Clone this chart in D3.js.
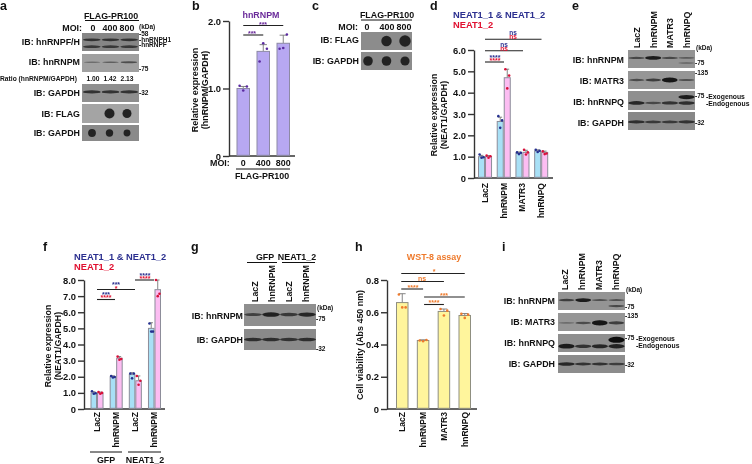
<!DOCTYPE html>
<html><head><meta charset="utf-8">
<script src="https://cdn.jsdelivr.net/npm/d3@7/dist/d3.min.js"></script>
<style>html,body{margin:0;padding:0;background:#fff}svg{display:block;filter:blur(0.3px)}text{font-family:"Liberation Sans",Arial,sans-serif;font-weight:700}</style>
</head><body><svg id="c" width="752" height="464"></svg>
<script>
// ---- Data ----
const moiCats = ["0","400","800"];
const bMeans = [1.0,1.55,1.67];
const bSd = [0.03,0.1,0.12];
const bPts = [[1.04,0.97,1.03],[1.4,1.67,1.59],[1.59,1.6,1.8]];
const kdCats = ["LacZ","hnRNPM","MATR3","hnRNPQ"];
const dBlue = [1.0,2.65,1.17,1.27];
const dPink = [1.0,4.7,1.2,1.2];
const dBlueSd = [0.06,0.2,0.05,0.05];
const dPinkSd = [0.05,0.4,0.1,0.06];
const dBluePts = [[1.1,0.95,0.97],[2.9,2.35,2.7],[1.2,1.12,1.18],[1.32,1.22,1.28]];
const dPinkPts = [[1.05,0.95,1.02],[5.1,4.2,4.8],[1.32,1.1,1.2],[1.25,1.12,1.15]];
const fCats = ["LacZ","hnRNPM","LacZ ","hnRNPM "];
const fBlue = [1.0,2.0,2.15,5.0];
const fPink = [1.0,3.15,1.75,7.4];
const fBlueSd = [0.07,0.06,0.1,0.35];
const fPinkSd = [0.05,0.1,0.3,0.6];
const fBluePts = [[1.1,0.95,0.98],[2.05,1.95,1.98],[2.2,1.9,2.2],[5.3,4.8,4.8]];
const fPinkPts = [[1.05,0.95,1.0],[3.25,3.05,3.1],[2.05,1.5,1.75],[8.0,7.0,7.15]];
const hMeans = [0.66,0.425,0.605,0.58];
const hSd = [0.055,0.004,0.015,0.012];
const hPts = [[0.71,0.63,0.63],[0.425,0.42,0.428],[0.62,0.58,0.61],[0.59,0.565,0.585]];
// blot band intensities (0..1+), one row per band, one value per lane
const aFH = [[.9,.9,.9],[.85,.85,.85]];
const aM = [[.3,.45,.62]];
const aG1 = [[.9,.9,.9]];
const aFlag = [0,1,.9];
const aG2 = [.85,.8,.75];
const cFlag = [0,1,1.1];
const cG = [1,1,.95];
const eM = [[.7,1.1,.7,.5],[0,0,0,.4]];
const eMat = [[.65,.8,1.2,.6]];
const eQ = [[0,0,0,1.1],[1,.7,.9,.95]];
const eG = [[.95,.85,.85,.9]];
const gM = [[.75,1.05,.85,1]];
const gG = [[.95,.95,.9,.95]];
const iM = [[.8,1.1,.6,.6],[0,0,0,.7]];
const iMat = [[.3,.65,1.2,.8]];
const iQ = [[0,0,0,1.3],[1.1,.9,1,1.05]];
const iG = [[1,.9,.9,.8]];

// ---- Drawing ----
const svg = d3.select("#c");
const defs = svg.append("defs");
defs.append("filter").attr("id","bl").attr("x","-30%").attr("y","-200%").attr("width","160%").attr("height","500%")
  .append("feGaussianBlur").attr("stdDeviation","0.7");
defs.append("filter").attr("id","bd").attr("x","-30%").attr("y","-30%").attr("width","160%").attr("height","160%")
  .append("feGaussianBlur").attr("stdDeviation","0.7");
const ink = "#111";
function T(x,y,s,o={}){
  const t = svg.append("text").attr("x",x).attr("y",y).text(s)
    .attr("font-size",o.size||8.9).attr("fill",o.fill||ink).attr("text-anchor",o.anchor||"start");
  if(o.rot!=null) t.attr("transform",`rotate(${o.rot} ${x} ${y})`);
  return t;
}
function L(x1,y,x2,c,w){svg.append("line").attr("x1",x1).attr("x2",x2).attr("y1",y).attr("y2",y).attr("stroke",c||ink).attr("stroke-width",w||1);}
const darkScale = d3.scaleLinear().domain([0,1.25]).range(["#8a8a8a","#101010"]).clamp(true);
function blot(x,y,w,h,rows,yf,bh,bg,pad){
  const g = svg.append("g");
  g.append("rect").attr("x",x).attr("y",y).attr("width",w).attr("height",h).attr("fill",bg||"#8f8f8f");
  const lanes = d3.scaleBand().domain(d3.range(rows[0].length)).range([x,x+w]).padding(pad==null?0.1:pad);
  rows.forEach((row,i)=>{
    g.selectAll(null).data(row).join("ellipse")
      .attr("cx",(d,k)=>lanes(k)+lanes.bandwidth()/2)
      .attr("cy",y+h*yf[i]).attr("rx",lanes.bandwidth()/2)
      .attr("ry",d=>d>0?bh*(0.4+0.7*d*d):0)
      .attr("fill",d=>darkScale(d)).attr("filter","url(#bl)");
  });
}
function dots(x,y,w,h,vals,r,xFirst,xLast,bg){
  const g = svg.append("g");
  g.append("rect").attr("x",x).attr("y",y).attr("width",w).attr("height",h).attr("fill",bg);
  const lanes = d3.scalePoint().domain(d3.range(vals.length)).range([xFirst,xLast]);
  g.selectAll("circle").data(vals).join("circle")
    .attr("cx",(d,i)=>lanes(i)).attr("cy",y+h/2).attr("r",d=>d>0?r*d:0)
    .attr("fill","#222").attr("filter","url(#bd)");
}
function axis(x,yBase,yTop,max,ticks,fmt,xEnd){
  const y = d3.scaleLinear().domain([0,max]).range([yBase,yTop]);
  const g = svg.append("g").attr("transform",`translate(${x},0)`)
    .call(d3.axisLeft(y).tickValues(ticks).tickSize(6).tickFormat(fmt).tickSizeOuter(0));
  g.selectAll("path,line").attr("stroke","#333").attr("stroke-width",1.4);
  g.selectAll("text").attr("font-size",9.4).attr("fill",ink).attr("dx",1);
  svg.append("line").attr("x1",x).attr("x2",xEnd).attr("y1",yBase).attr("y2",yBase).attr("stroke","#333").attr("stroke-width",1.4);
  return y;
}
function series(xf,w,y,means,sd,pts,fill,ptFill,stroke){
  const g = svg.append("g");
  means.forEach((m,i)=>{
    const cx = xf(i)+w/2;
    g.append("line").attr("x1",cx).attr("x2",cx).attr("y1",y(m)).attr("y2",y(m+sd[i])).attr("stroke","#777").attr("stroke-width",0.9);
    g.append("line").attr("x1",cx-w*0.27).attr("x2",cx+w*0.27).attr("y1",y(m+sd[i])).attr("y2",y(m+sd[i])).attr("stroke","#777").attr("stroke-width",0.9);
    g.append("rect").attr("x",xf(i)+.5).attr("y",y(m)).attr("width",w-1).attr("height",y(0)-y(m)-.7)
      .attr("fill",fill).attr("stroke",stroke||"#8d8d9a").attr("stroke-width",1);
    const off = d3.scalePoint().domain([0,1,2]).range([-w*0.27,w*0.27]);
    g.selectAll(null).data(pts[i]).join("circle").attr("cx",(d,k)=>cx+off(k)).attr("cy",d=>y(d)).attr("r",1.3).attr("fill",ptFill);
  });
}
function rotLabels(x,cats,yTop){
  cats.forEach(c=>T(x(c)+x.bandwidth()/2+3,yTop,c.trim(),{anchor:"end",rot:-90,size:8.5}));
}
function rotAt(xs,labels,yBase){labels.forEach((c,i)=>T(xs[i]+3,yBase,c,{anchor:"start",rot:-90}));}
function brk(x1,x2,y,c){L(x1,y,x2,c||"#222",1.1);}
const BLUE="#2b2f8f",RED="#e01030",PURPLE="#6a2a9a",ORANGE="#ee7a2c";

// panel labels
[["a",0,10],["b",192,10],["c",312,10],["d",430,10],["e",572,10],["f",43,251],["g",191,251],["h",355,251],["i",502,251]]
 .forEach(d=>T(d[1],d[2],d[0],{size:12.5}));

// ---- a ----
T(111,18.5,"FLAG-PR100",{anchor:"middle"}); L(85,20.5,139);
T(82,31,"MOI:",{anchor:"end"});
[93,110,127].forEach((x,i)=>T(x,31,moiCats[i],{anchor:"middle"}));
T(139,28.5,"(kDa)",{size:6.5});
blot(82,33,57,18,aFH,[.38,.76],1.5,"#868686",.05);
blot(82,54,57,18,aM,[.46],1.5,"#a0a0a0",.1);
blot(82,84,57,18,aG1,[.44],1.7,"#8f8f8f",.05);
dots(82,104,57,19,aFlag,5,92,127,"#a4a4a4");
dots(82,125,57,16,aG2,4.6,92,127,"#8a8a8a");
T(80,45,"IB: hnRNPF/H",{anchor:"end"});
T(80,65,"IB: hnRNPM",{anchor:"end"});
T(80,96,"IB: GAPDH",{anchor:"end"});
T(80,117,"IB: FLAG",{anchor:"end"});
T(80,136,"IB: GAPDH",{anchor:"end"});
T(0,81,"Ratio (hnRNPM/GAPDH)",{size:6.7});
T(93,81,"1.00",{size:6.7,anchor:"middle"});T(110,81,"1.42",{size:6.7,anchor:"middle"});T(127,81,"2.13",{size:6.7,anchor:"middle"});
T(139,36,"-58",{size:6.5});T(139,42,"-hnRNPH1",{size:6.5});T(139,47,"-hnRNPF",{size:6.5});T(139,71,"-75",{size:6.5});T(139,95,"-32",{size:6.5});

// ---- b ----
{
 const y = axis(229,156,21,2,[0,1,2],d=>d===0?"0":d.toFixed(1),295);
 const x = d3.scaleBand().domain(moiCats).range([236.5,290]).paddingInner(.325);
 series(i=>x(moiCats[i]),x.bandwidth(),y,bMeans,bSd,bPts,"#b7a8f2","#5a2aa0","#8d8aa5");
 T(261,18,"hnRNPM",{anchor:"middle",fill:PURPLE});
 const c=i=>x(moiCats[i])+x.bandwidth()/2;
 T(263,27,"***",{anchor:"middle",fill:PURPLE,size:7}); brk(c(0),c(2),25.5);
 T(252,36,"***",{anchor:"middle",fill:PURPLE,size:7}); brk(c(0),c(1),35);
 T(210,166,"MOI:");
 moiCats.forEach(m=>T(x(m)+x.bandwidth()/2,166,m,{anchor:"middle"}));
 L(236,169,290); T(262,179,"FLAG-PR100",{anchor:"middle"});
 T(198,90,"Relative expression",{anchor:"middle",rot:-90,size:9});
 T(208,90,"(hnRNPM/GAPDH)",{anchor:"middle",rot:-90,size:9});
}

// ---- c ----
T(387,18,"FLAG-PR100",{anchor:"middle"}); L(361,20,412);
T(358,30,"MOI:",{anchor:"end"});
[367,387,404].forEach((x,i)=>T(x,30,moiCats[i],{anchor:"middle"}));
dots(361,32,51,18,cFlag,5.2,368,405,"#8c8c8c");
dots(361,52,51,18,cG,4.8,368,405,"#8c8c8c");
T(359,43,"IB: FLAG",{anchor:"end"});
T(359,64,"IB: GAPDH",{anchor:"end"});

// ---- d ----
{
 T(453,18,"NEAT1_1 & NEAT1_2",{fill:BLUE,size:9.3}); T(453,28,"NEAT1_2",{fill:RED,size:9.3});
 const y = axis(474,178,50,6,[0,1,2,3,4,5,6],d=>d===0?"0":d.toFixed(1),553);
 const x = d3.scaleBand().domain(kdCats).range([478,548.2]).paddingInner(.25);
 const w = x.bandwidth()/2;
 series(i=>x(kdCats[i]),w,y,dBlue,dBlueSd,dBluePts,"#a8e0f6","#25308f");
 series(i=>x(kdCats[i])+w,w,y,dPink,dPinkSd,dPinkPts,"#fcbdf2","#d9103a");
 rotLabels(x,kdCats,183);
 T(436.5,115,"Relative expression",{anchor:"middle",rot:-90,size:8.8});
 T(446.5,115,"(NEAT1/GAPDH)",{anchor:"middle",rot:-90,size:8.8});
 brk(485,541.5,39.3); brk(485,523,50.7); brk(485,504,62);
 T(513,34.5,"ns",{anchor:"middle",fill:BLUE,size:6.5});T(513,38.5,"ns",{anchor:"middle",fill:RED,size:6.5});
 T(504,46.5,"ns",{anchor:"middle",fill:BLUE,size:6.5});T(504,50.5,"ns",{anchor:"middle",fill:RED,size:6.5});
 T(495,60,"****",{anchor:"middle",fill:BLUE,size:7});T(495,63,"****",{anchor:"middle",fill:RED,size:7});
}

// ---- e ----
rotAt([637,654,670,687],kdCats,48);
T(696,50,"(kDa)",{size:6.5});
blot(628,50,67,18,eM,[.44,.72],1.5,"#949494",.03);
blot(628,71,67,18,eMat,[.5],1.7,"#969696",.05);
blot(628,91,67,19,eQ,[.32,.63],1.7,"#8f8f8f",.02);
blot(628,112,67,18,eG,[.55],1.6,"#888",0);
T(624,63,"IB: hnRNPM",{anchor:"end"});
T(624,84,"IB: MATR3",{anchor:"end"});
T(624,105,"IB: hnRNPQ",{anchor:"end"});
T(624,126,"IB: GAPDH",{anchor:"end"});
T(695,65,"-75",{size:6.5});T(695,75,"-135",{size:6.5});T(695,98,"-75",{size:6.5});T(695,125,"-32",{size:6.5});
T(706,99,"-Exogenous",{size:6.8});T(706,106,"-Endogenous",{size:6.8});

// ---- f ----
{
 T(74,260,"NEAT1_1 & NEAT1_2",{fill:BLUE,size:9.3}); T(74,270,"NEAT1_2",{fill:RED,size:9.3});
 const y = axis(84,409,280,8,[0,1,2,3,4,5,6,7,8],d=>d===0?"0":d.toFixed(1),165);
 const x = d3.scaleBand().domain(fCats).range([90.5,161]).paddingInner(.32);
 const w = x.bandwidth()/2;
 series(i=>x(fCats[i]),w,y,fBlue,fBlueSd,fBluePts,"#a8e0f6","#25308f");
 series(i=>x(fCats[i])+w,w,y,fPink,fPinkSd,fPinkPts,"#fcbdf2","#d9103a");
 rotLabels(x,fCats,412);
 T(50.5,346,"Relative expression",{anchor:"middle",rot:-90,size:8.8});
 T(60.5,346,"(NEAT1/GAPDH)",{anchor:"middle",rot:-90,size:8.8});
 brk(135,154,280); brk(97,135,289.5); brk(97,115,299.5);
 T(145,278,"****",{anchor:"middle",fill:BLUE,size:7});T(145,281,"****",{anchor:"middle",fill:RED,size:7});
 T(116,287,"***",{anchor:"middle",fill:BLUE,size:7});T(116,290.5,"*",{anchor:"middle",fill:RED,size:7});
 T(106,296.5,"***",{anchor:"middle",fill:BLUE,size:7});T(106,300,"****",{anchor:"middle",fill:RED,size:7});
 L(90,452,122);L(128,452,161);
 T(106,463,"GFP",{anchor:"middle"});T(145,463,"NEAT1_2",{anchor:"middle"});
}

// ---- g ----
T(265,260,"GFP",{anchor:"middle"});T(297,260,"NEAT1_2",{anchor:"middle"});
L(247,262.5,277);L(282,262.5,315);
rotAt([255,272,289,306],["LacZ","hnRNPM","LacZ","hnRNPM"],302);
T(317,310,"(kDa)",{size:6.5});
blot(244,304,72,22,gM,[.48],1.9,"#8f8f8f",.01);
blot(244,329,72,21,gG,[.5],1.7,"#8a8a8a",0);
T(243,319,"IB: hnRNPM",{anchor:"end"});
T(243,343,"IB: GAPDH",{anchor:"end"});
T(316,321,"-75",{size:6.5});T(316,351,"-32",{size:6.5});

// ---- h ----
{
 const y = axis(387,409,280,.8,[0,.2,.4,.6,.8],d=>d===0?"0":d.toFixed(1),477);
 const x = d3.scaleBand().domain(kdCats).range([396,471]).paddingInner(.4);
 series(i=>x(kdCats[i]),x.bandwidth(),y,hMeans,hSd,hPts,"#fff59c",ORANGE,"#8f8f80");
 rotLabels(x,kdCats,412);
 T(434,260,"WST-8 assay",{anchor:"middle",fill:ORANGE});
 T(362.5,345,"Cell viability (Abs 450 nm)",{anchor:"middle",rot:-90,size:8.9});
 const c=i=>x(kdCats[i])+x.bandwidth()/2;
 brk(c(0)-1,c(3),273.5); brk(c(0)-1,c(2),281.5); brk(c(0)-1,c(1),289);
 brk(c(1)+1,c(3),297); brk(c(1)+1,c(2),304.5);
 T(434,274,"*",{anchor:"middle",fill:ORANGE,size:7});
 T(422,281,"ns",{anchor:"middle",fill:ORANGE,size:7});
 T(413,289.5,"****",{anchor:"middle",fill:ORANGE,size:7});
 T(444,297.5,"***",{anchor:"middle",fill:ORANGE,size:7});
 T(434,305,"****",{anchor:"middle",fill:ORANGE,size:7});
}

// ---- i ----
rotAt([565,582,599,616],kdCats,290);
T(626,292,"(kDa)",{size:6.5});
blot(558,292,67,18,iM,[.45,.78],1.5,"#949494",.04);
blot(558,313,67,18,iMat,[.55],1.8,"#969696",.05);
blot(558,334,67,18,iQ,[.32,.68],1.9,"#8f8f8f",.02);
blot(558,355,67,18,iG,[.5],1.6,"#8c8c8c",0);
T(555,304,"IB: hnRNPM",{anchor:"end"});
T(555,325,"IB: MATR3",{anchor:"end"});
T(555,346,"IB: hnRNPQ",{anchor:"end"});
T(555,367,"IB: GAPDH",{anchor:"end"});
T(625,309,"-75",{size:6.5});T(625,318,"-135",{size:6.5});T(625,340,"-75",{size:6.5});T(625,367,"-32",{size:6.5});
T(636,341,"-Exogenous",{size:6.8});T(636,348,"-Endogenous",{size:6.8});
</script></body></html>
